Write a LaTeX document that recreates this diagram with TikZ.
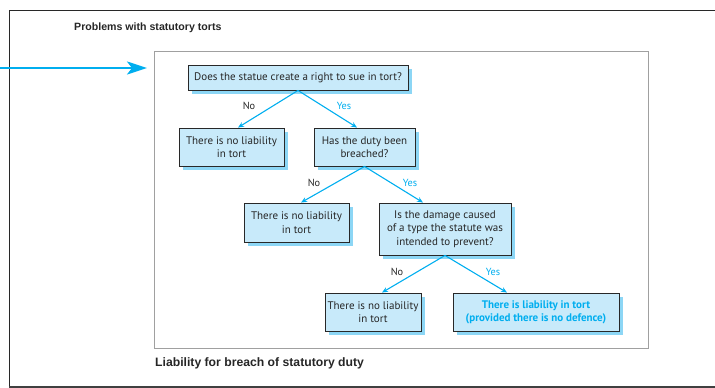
\documentclass[tikz,border=0pt]{standalone}
\usepackage{fontspec}
\setmainfont{PT Sans}
\newfontfamily\helv{Liberation Sans}
\usetikzlibrary{arrows.meta,calc}
\definecolor{boxfill}{RGB}{200,234,250}
\definecolor{shadowc}{RGB}{140,214,245}
\definecolor{cyanc}{RGB}{0,174,239}
\definecolor{framec}{RGB}{40,40,40}
\definecolor{innerc}{RGB}{160,160,160}
\tikzset{
  flowbox/.style={draw=framec, line width=0.9pt, fill=boxfill, align=center,
    inner sep=1pt, font=\fontsize{11}{13.4}\selectfont, text=black!85},
  conn/.style={draw=cyanc, line width=1.1pt, -{Stealth[length=6pt,width=5pt]}},
  nolab/.style={font=\fontsize{10.3}{12}\selectfont, text=black!85},
  yeslab/.style={font=\fontsize{10.3}{12}\selectfont, text=cyanc},
}
\newcommand{\shadowbox}[6]{% name, cx, cy, w, h, text
  \fill[shadowc] (#2-#4/2+4,#3-#5/2+4) rectangle (#2+#4/2+4,#3+#5/2+4);
  \node[flowbox, minimum width=#4pt, minimum height=#5pt] (#1) at (#2,#3) {#6};
}
\begin{document}
\begin{tikzpicture}[x=1pt,y=-1pt]
\useasboundingbox (0,0) rectangle (715,388);
% outer frame
\draw[framec, line width=1.2pt] (9.5,387) -- (9.5,10.5) -- (715,10.5);
\draw[black!75, line width=2pt] (9,387) -- (715,387);
% inner frame
\draw[innerc, line width=0.9pt] (154,51) rectangle (648,348);
% title and caption
\node[anchor=west, inner sep=0pt, font=\helv\bfseries\fontsize{10.6}{12}\selectfont, text=black!85] (title) at (74,28) {Problems with statutory torts};
\node[anchor=west, inner sep=0pt, font=\helv\bfseries\fontsize{12.2}{14}\selectfont, text=black!85] (caption) at (155,363) {Liability for breach of statutory duty};
% big arrow
\coordinate (arrstart) at (0,68);
\coordinate (arrend) at (147,68);
\draw[cyanc, line width=2.5pt, -{Stealth[length=20pt,width=13pt,inset=5pt]}] (arrstart) -- (arrend);
% boxes
\shadowbox{q1}{298}{77.5}{220}{25}{Does the statue create a right to sue in tort?}
\shadowbox{no1}{231.5}{147}{105}{38}{There is no liability\\in tort}
\shadowbox{q2}{364.5}{147}{101}{38}{Has the duty been\\breached?}
\shadowbox{no2}{296.5}{222.5}{105}{39}{There is no liability\\in tort}
\shadowbox{q3}{445}{229}{132}{52}{Is the damage caused\\of a type the statute was\\intended to prevent?}
\shadowbox{no3}{373}{312}{96}{38}{There is no liability\\in tort}
\shadowbox{yes3}{536}{312}{166}{38}{\textcolor{cyanc}{\bfseries There is liability in tort}\\\textcolor{cyanc}{\bfseries (provided there is no defence)}}
% connectors
\draw[conn] (q1.south) -- ($(no1.north)+(6.5,0)$);
\draw[conn] (q1.south) -- ($(q2.north)+(-7.5,0)$);
\draw[conn] (q2.south) -- ($(no2.north)+(4.5,0)$);
\draw[conn] (q2.south) -- ($(q3.north)+(-22,0)$);
\draw[conn] (q3.south) -- ($(no3.north)+(9,0)$);
\draw[conn] (q3.south) -- ($(yes3.north)+(-29,0)$);
% labels
\node[nolab] (l1) at (249,106) {No};
\node[yeslab] (l2) at (344,106) {Yes};
\node[nolab] (l3) at (314,183) {No};
\node[yeslab] (l4) at (410,183) {Yes};
\node[nolab] (l5) at (397,272) {No};
\node[yeslab] (l6) at (493,272) {Yes};
\end{tikzpicture}
\end{document}
